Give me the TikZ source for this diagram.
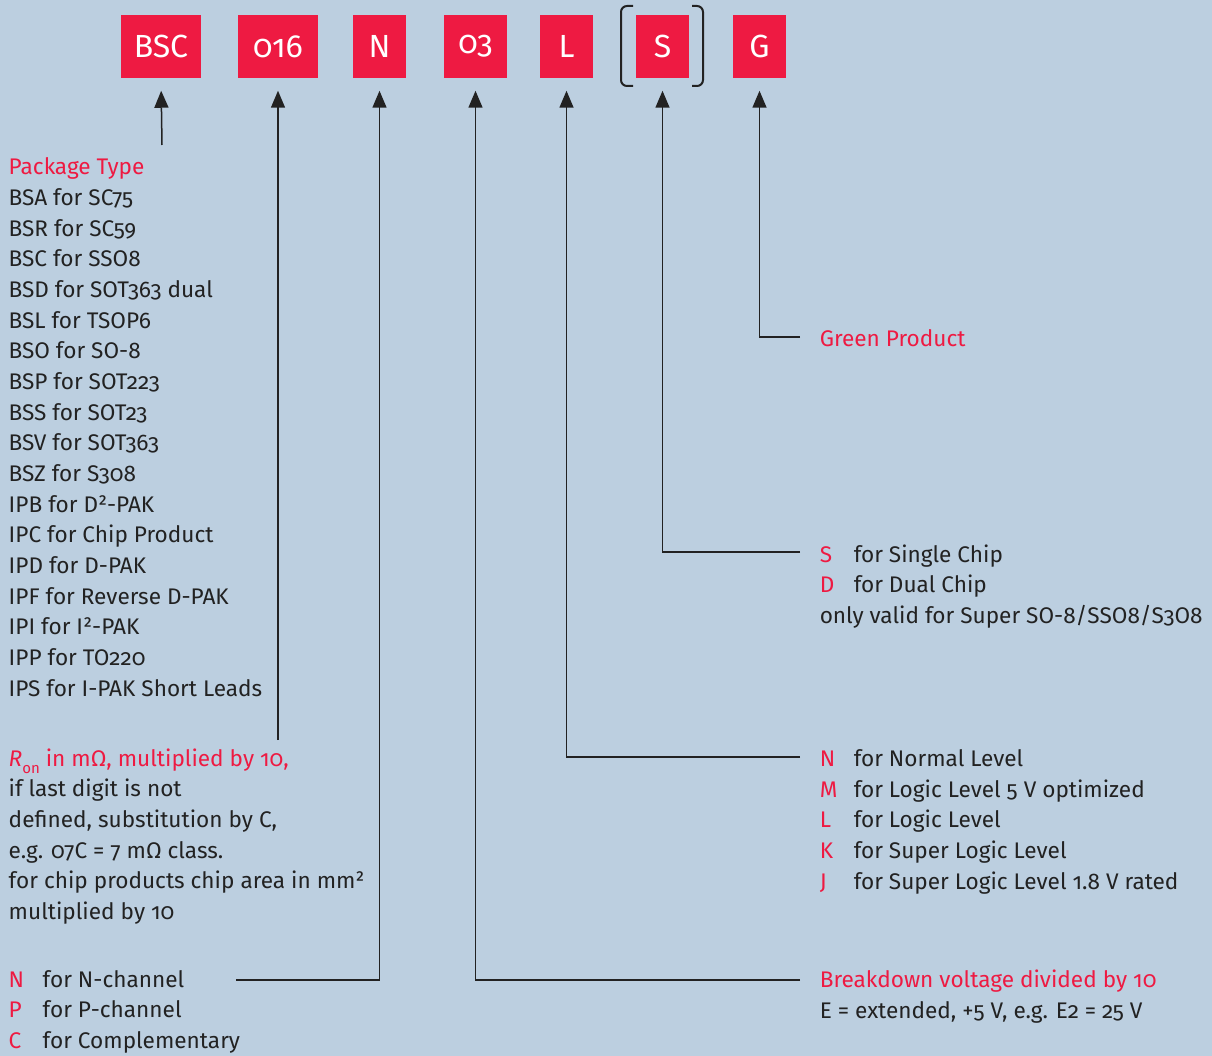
\documentclass[tikz,border=0pt]{standalone}
\usepackage{fontspec}
\setmainfont{Fira Sans}[Numbers=OldStyle]
\usetikzlibrary{arrows.meta}
\definecolor{ifxred}{HTML}{EE1A42}
\definecolor{ifxblue}{HTML}{BCCFE0}
\definecolor{ifxtext}{HTML}{222222}
\newcommand{\rd}[1]{\textcolor{ifxred}{#1}}
\newcommand{\key}[1]{\makebox[34pt][l]{\rd{#1}}}
\tikzset{every picture/.style={line width=1.5pt}}

\begin{document}
\begin{tikzpicture}[x=1pt,y=1pt,yscale=-1,xscale=1,
  pkgbox/.style={fill=ifxred,text=white,minimum height=63pt,inner sep=0pt,font=\fontsize{32}{36}\selectfont},
  pointer/.style={draw=ifxtext,-{Triangle[length=17pt,width=14pt]},shorten >=12pt},
  legend/.style={anchor=base west,align=left,inner sep=0pt,text=ifxtext,font=\fontsize{22.6}{30.65}\selectfont}]
% background
\fill[ifxblue] (0,0) rectangle (1212,1056);
\useasboundingbox (0,0) rectangle (1212,1056);

% part number boxes
\node[pkgbox,minimum width=80pt] (bsc) at (161,46.5) {BSC};
\node[pkgbox,minimum width=80pt] (b016) at (278,46.5) {016};
\node[pkgbox,minimum width=53pt] (bn) at (379.5,46.5) {N};
\node[pkgbox,minimum width=63pt] (b03) at (475.5,46.5) {03};
\node[pkgbox,minimum width=53pt] (bl) at (566.5,46.5) {L};
\node[pkgbox,minimum width=53pt] (bs) at (662.5,46.5) {S};
\node[pkgbox,minimum width=53pt] (bg) at (759.5,46.5) {G};

% optional bracket round S
\draw[ifxtext,line width=2pt,rounded corners=6pt] (633,6) -- (621,6) -- (621,86) -- (633,86);
\draw[ifxtext,line width=2pt,rounded corners=6pt] (692,6) -- (703,6) -- (703,86) -- (692,86);

% Text Node (base = last line)
\node[legend] (pkg) at (8,696) {\rd{Package Type}\\
BSA for SC75\\
BSR for SC59\\
BSC for SSO8\\
BSD for SOT363 dual\\
BSL for TSOP6\\
BSO for SO-8\\
BSP for SOT223\\
BSS for SOT23\\
BSV for SOT363\\
BSZ for S308\\
IPB for D²-PAK\\
IPC for Chip Product\\
IPD for D-PAK\\
IPF for Reverse D-PAK\\
IPI for I²-PAK\\
IPP for TO220\\
IPS for I-PAK Short Leads};
% Text Node
\node[legend] (ron) at (8,919.5) {\rd{\textit{R}\raisebox{-0.3em}{\fontsize{15}{15}\selectfont on} in mΩ, multiplied by 10,}\\
if last digit is not\\
defined, substitution by C,\\
e.g. 07C = 7 mΩ class.\\
for chip products chip area in mm²\\
multiplied by 10};
% Text Node
\node[legend] (chan) at (8,1048.5) {\key{N}for N-channel\\
\key{P}for P-channel\\
\key{C}for Complementary};
% Text Node
\node[legend] (green) at (819,346) {\rd{Green Product}};
% Text Node
\node[legend] (chip) at (819,623.5) {\key{S}for Single Chip\\
\key{D}for Dual Chip\\
only valid for Super SO-8/SSO8/S3O8};
% Text Node
\node[legend] (level) at (819,889) {\key{N}for Normal Level\\
\key{M}for Logic Level 5 V optimized\\
\key{L}for Logic Level\\
\key{K}for Super Logic Level\\
\key{J}for Super Logic Level 1.8 V rated};
% Text Node
\node[legend] (volt) at (819,1018) {\rd{Breakdown voltage divided by 10}\\
E = extended, +5 V, e.g. E2 = 25 V};

% connector ends
\coordinate (c-bsc) at (162,145);
\coordinate (c-016) at (278,740);
\coordinate (c-n) at (236,980);
\coordinate (c-03) at (800,980);
\coordinate (c-l) at (800,757);
\coordinate (c-s) at (800,552);
\coordinate (c-g) at (800,337);

% arrows
\draw[pointer] (c-bsc) -- (bsc.south);
\draw[pointer] (c-016) -- (b016.south);
\draw[pointer] (c-n) -| (bn.south);
\draw[pointer] (c-03) -| (b03.south);
\draw[pointer] (c-l) -| (bl.south);
\draw[pointer] (c-s) -| (bs.south);
\draw[pointer] (c-g) -| (bg.south);
\end{tikzpicture}
\end{document}
